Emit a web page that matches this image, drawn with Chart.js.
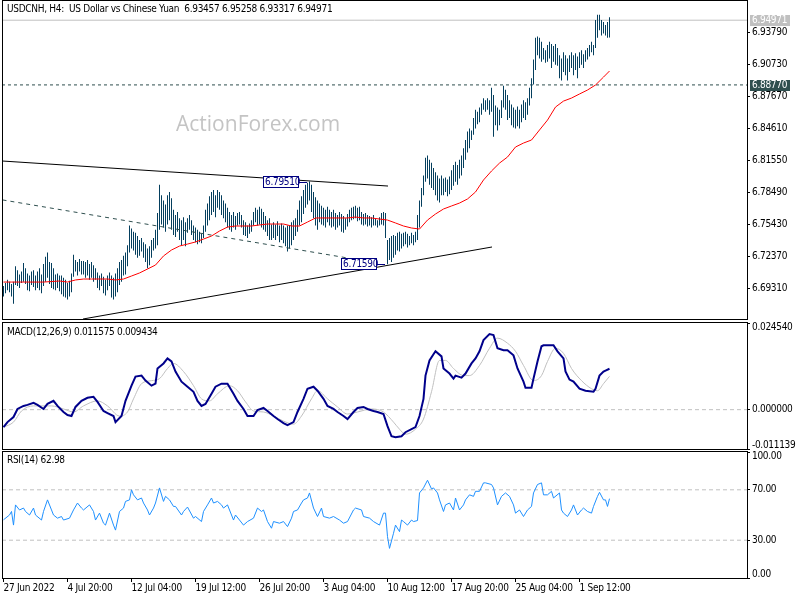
<!DOCTYPE html>
<html><head><meta charset="utf-8">
<script src="https://cdn.jsdelivr.net/npm/chart.js@4.4.1/dist/chart.umd.min.js"></script>
<style>
html,body{margin:0;padding:0;background:#fff;width:800px;height:600px;overflow:hidden;}
canvas{position:absolute;left:0;}
</style></head><body>
<canvas id="cPrice" width="800" height="320" style="top:0px"></canvas>
<canvas id="cMacd" width="800" height="130" style="top:320px"></canvas>
<canvas id="cRsi" width="800" height="150" style="top:450px"></canvas>
<script>
// ---------- DATA ----------
const symbolTitle = 'USDCNH, H4:  US Dollar vs Chinese Yuan';
const lastOHLC = [6.93457, 6.95258, 6.93317, 6.94971];
const dateTickBars = [0, 32, 64, 96, 128, 160, 192, 224, 256, 288];
const dateLabels = ['27 Jun 2022','4 Jul 20:00','12 Jul 04:00','19 Jul 12:00','26 Jul 20:00','3 Aug 04:00','10 Aug 12:00','17 Aug 20:00','25 Aug 04:00','1 Sep 12:00'];
const priceTicks = [6.6931, 6.7237, 6.7543, 6.7849, 6.8155, 6.8461, 6.8767, 6.9073, 6.9379];
const priceMin = 6.6634, priceMax = 6.9681;

const highs = [
6.695,6.698,6.701,6.699,6.697,6.699,6.714,6.710,6.706,6.709,
6.717,6.712,6.707,6.705,6.709,6.710,6.705,6.709,6.712,6.706,
6.716,6.723,6.727,6.718,6.717,6.712,6.706,6.707,6.705,6.705,
6.703,6.701,6.698,6.700,6.707,6.725,6.720,6.718,6.721,6.719,
6.719,6.718,6.720,6.716,6.718,6.715,6.712,6.708,6.705,6.707,
6.704,6.701,6.705,6.708,6.705,6.703,6.707,6.712,6.718,6.720,
6.724,6.727,6.734,6.753,6.750,6.747,6.746,6.743,6.739,6.741,
6.737,6.735,6.731,6.733,6.739,6.741,6.749,6.765,6.792,6.782,
6.777,6.773,6.782,6.785,6.779,6.768,6.763,6.766,6.760,6.758,
6.761,6.756,6.760,6.763,6.758,6.753,6.751,6.749,6.747,6.745,
6.753,6.768,6.774,6.781,6.785,6.787,6.782,6.787,6.785,6.782,
6.777,6.774,6.770,6.766,6.763,6.766,6.762,6.765,6.766,6.763,
6.758,6.756,6.753,6.755,6.758,6.766,6.770,6.768,6.771,6.769,
6.766,6.762,6.758,6.760,6.754,6.756,6.754,6.757,6.753,6.755,
6.753,6.751,6.753,6.753,6.756,6.758,6.760,6.768,6.777,6.781,
6.787,6.792,6.794,6.7951,6.792,6.785,6.780,6.777,6.774,6.772,
6.770,6.768,6.771,6.768,6.766,6.768,6.765,6.763,6.766,6.764,
6.762,6.760,6.764,6.768,6.770,6.771,6.772,6.770,6.771,6.766,
6.764,6.765,6.763,6.762,6.761,6.763,6.760,6.758,6.761,6.765,
6.766,6.765,6.739,6.741,6.743,6.744,6.743,6.746,6.747,6.745,
6.746,6.747,6.745,6.743,6.746,6.744,6.747,6.763,6.777,6.789,
6.801,6.818,6.820,6.816,6.813,6.808,6.804,6.801,6.798,6.801,
6.798,6.799,6.797,6.800,6.806,6.811,6.814,6.811,6.816,6.820,
6.827,6.835,6.843,6.846,6.844,6.856,6.864,6.862,6.866,6.870,
6.875,6.873,6.875,6.873,6.885,6.878,6.868,6.866,6.864,6.873,
6.887,6.883,6.878,6.873,6.869,6.866,6.864,6.867,6.864,6.869,
6.873,6.871,6.875,6.885,6.894,6.912,6.933,6.934,6.933,6.929,
6.923,6.921,6.926,6.929,6.927,6.925,6.927,6.923,6.916,6.913,
6.919,6.916,6.913,6.916,6.919,6.916,6.918,6.915,6.919,6.921,
6.917,6.921,6.923,6.926,6.929,6.926,6.950,6.955,6.955,6.950,
6.948,6.945,6.948,6.95258];

const lows = [
6.685,6.688,6.691,6.689,6.685,6.678,6.696,6.695,6.693,6.698,
6.699,6.697,6.691,6.690,6.696,6.694,6.691,6.693,6.691,6.688,
6.695,6.699,6.703,6.697,6.693,6.692,6.691,6.693,6.690,6.687,
6.685,6.684,6.682,6.685,6.689,6.704,6.709,6.705,6.709,6.706,
6.706,6.703,6.705,6.701,6.703,6.699,6.701,6.693,6.691,6.695,
6.688,6.686,6.691,6.695,6.684,6.682,6.685,6.689,6.696,6.699,
6.705,6.706,6.714,6.727,6.731,6.729,6.725,6.722,6.724,6.728,
6.722,6.718,6.712,6.715,6.722,6.729,6.731,6.734,6.749,6.754,
6.751,6.747,6.754,6.758,6.749,6.744,6.742,6.747,6.739,6.734,
6.739,6.733,6.746,6.749,6.744,6.739,6.737,6.735,6.737,6.736,
6.741,6.747,6.753,6.758,6.763,6.766,6.761,6.770,6.768,6.763,
6.760,6.756,6.751,6.749,6.747,6.751,6.749,6.753,6.754,6.751,
6.744,6.743,6.741,6.745,6.747,6.753,6.756,6.753,6.754,6.751,
6.749,6.747,6.743,6.739,6.739,6.741,6.739,6.743,6.737,6.739,
6.736,6.733,6.728,6.731,6.734,6.739,6.743,6.747,6.753,6.756,
6.764,6.770,6.773,6.777,6.766,6.760,6.753,6.749,6.756,6.754,
6.753,6.751,6.756,6.753,6.751,6.752,6.749,6.751,6.753,6.747,
6.746,6.749,6.752,6.756,6.758,6.759,6.760,6.757,6.758,6.754,
6.753,6.754,6.752,6.753,6.751,6.753,6.753,6.751,6.753,6.754,
6.753,6.741,6.7159,6.720,6.718,6.722,6.725,6.729,6.728,6.731,
6.733,6.735,6.732,6.734,6.736,6.734,6.737,6.739,6.751,6.771,
6.782,6.795,6.798,6.792,6.789,6.787,6.782,6.777,6.775,6.782,
6.782,6.785,6.781,6.783,6.787,6.791,6.795,6.792,6.798,6.801,
6.808,6.816,6.823,6.827,6.835,6.840,6.846,6.850,6.852,6.859,
6.864,6.862,6.864,6.859,6.862,6.838,6.849,6.844,6.849,6.856,
6.866,6.864,6.854,6.856,6.849,6.847,6.846,6.848,6.846,6.852,
6.856,6.854,6.859,6.868,6.875,6.888,6.902,6.916,6.913,6.910,
6.912,6.909,6.910,6.913,6.904,6.910,6.907,6.906,6.894,6.892,
6.900,6.897,6.892,6.900,6.904,6.897,6.902,6.894,6.904,6.907,
6.904,6.910,6.912,6.915,6.919,6.916,6.923,6.933,6.940,6.935,
6.937,6.935,6.933,6.93317];

// moving average, one reading every 4 bars (last one on the final bar)
const maEvery = 4;
const maValues = [
6.6988,6.6988,6.6988,6.6988,6.6988,6.6988,6.6993,6.6998,6.6988,6.7008,
6.7017,6.7017,6.7017,6.7017,6.7008,6.7017,6.7046,6.7075,6.7113,6.7151,
6.7238,6.7295,6.7333,6.7352,6.7372,6.7400,6.7429,6.7477,6.7515,6.7525,
6.7525,6.7525,6.7535,6.7544,6.7544,6.7544,6.7525,6.7525,6.7563,6.7602,
6.7602,6.7602,6.7602,6.7602,6.7611,6.7602,6.7602,6.7592,6.7582,6.7554,
6.7525,6.7506,6.7496,6.7582,6.7640,6.7688,6.7717,6.7745,6.7784,6.7851,
6.7966,6.8052,6.8128,6.8186,6.8282,6.8320,6.8349,6.8445,6.8540,6.8665,
6.8722,6.8751,6.8790,6.8828,6.8876,6.8952,6.9010];

const levelPrice = 6.8877;
const swingHigh = {bar:153, price:6.7951};
const swingLow = {bar:192, price:6.7159};
const trendUpper = [[-0.75, 6.8148], [192.25, 6.7908]];
const trendLower = [[39.75, 6.6634], [244.25, 6.7324]];
const trendDashed = [[-0.5, 6.7775], [172.25, 6.7218]];

const macdTicks = [-0.011139, 0, 0.02454];
const macdIdx = [0,2,5,7,10,12,15,17,20,22,25,27,30,32,34,36,39,42,45,47,50,52,55,56,59,61,64,66,69,71,74,76,77,80,82,84,86,89,92,95,97,99,101,104,106,109,112,115,117,120,122,125,127,130,132,135,137,140,142,145,147,150,152,155,157,160,162,165,167,170,172,175,177,180,182,185,187,190,192,194,196,199,201,204,206,208,210,211,213,215,216,219,220,223,225,226,229,231,234,236,238,240,243,245,247,250,252,255,257,260,261,264,265,267,269,270,275,277,280,281,283,285,288,291,295,296,298,300,301,303];
const macdMain = [-0.00495,-0.00352,-0.00209,0.00020,0.00106,0.00135,0.00192,0.00135,0.00020,0.00163,
0.00249,0.00106,-0.00066,-0.00152,-0.00180,0.00077,0.00249,0.00335,0.00364,0.00221,
-0.00037,-0.00095,-0.00180,-0.00352,-0.00180,0.00249,0.00679,0.00937,0.00965,0.00822,
0.00679,0.00736,0.01166,0.01309,0.01452,0.01366,0.01080,0.00793,0.00650,0.00507,
0.00249,0.00106,0.00163,0.00450,0.00650,0.00736,0.00736,0.00450,0.00249,0.00020,
-0.00180,-0.00180,-0.00009,0.00049,-0.00037,-0.00180,-0.00266,-0.00381,-0.00438,-0.00352,
-0.00066,0.00306,0.00593,0.00650,0.00536,0.00306,0.00106,0.00020,-0.00066,-0.00180,
-0.00266,-0.00066,0.00049,0.00077,0.00020,-0.00037,-0.00066,-0.00123,-0.00467,-0.00753,
-0.00782,-0.00753,-0.00639,-0.00553,-0.00495,-0.00180,0.00306,0.00965,0.01395,0.01567,
0.01653,0.01509,0.01166,0.01022,0.00879,0.00965,0.00908,0.01022,0.01309,0.01452,
0.01653,0.01968,0.02139,0.02111,0.01738,0.01681,0.01681,0.01538,0.01166,0.00793,
0.00621,0.00621,0.00879,0.01366,0.01796,0.01824,0.01824,0.01653,0.01452,0.01080,
0.00851,0.00793,0.00593,0.00536,0.00507,0.00593,0.00965,0.01080,0.01108,0.011575];
const signalIdx = [0,5,9,15,24,30,35,40,47,52,58,62,65,69,74,78,82,85,90,95,99,103,107,113,117,121,125,130,135,140,145,149,154,157,162,167,172,177,184,190,195,198,201,206,210,214,218,221,225,230,233,238,243,247,252,256,260,265,269,272,276,280,284,289,294,297,300,303];
const macdSignal = [-0.00495,-0.00352,-0.00037,0.00106,0.00106,0.00020,-0.00066,0.00106,0.00249,0.00106,
-0.00180,-0.00066,0.00306,0.00736,0.00822,0.00879,0.01166,0.01309,0.01080,0.00679,
0.00306,0.00249,0.00450,0.00679,0.00536,0.00221,-0.00037,-0.00066,-0.00180,-0.00324,
-0.00410,-0.00180,0.00306,0.00536,0.00306,0.00077,-0.00123,-0.00066,0.00020,-0.00066,
-0.00352,-0.00553,-0.00696,-0.00553,-0.00266,0.00507,0.01395,0.01395,0.01166,0.00965,
0.00965,0.01252,0.01738,0.02025,0.01882,0.01653,0.01252,0.00822,0.00965,0.01366,
0.01738,0.01595,0.01166,0.00822,0.00593,0.00536,0.00736,0.009434];

const rsiTicks = [0, 30, 70, 100];
const rsiLevels = [30, 70];
const rsiIdx = [0,3,4,5,6,8,10,11,13,15,16,19,20,22,24,25,27,29,30,33,35,37,39,40,43,45,46,48,50,51,53,55,56,58,60,61,63,64,65,67,69,70,72,73,75,76,78,80,81,83,85,86,89,90,92,95,96,99,100,102,104,105,107,109,110,112,115,116,118,120,122,125,127,129,130,132,134,135,138,140,142,144,145,147,149,150,152,153,155,157,159,160,163,165,168,170,172,175,176,179,180,183,185,188,190,191,192,193,195,196,198,199,200,202,204,205,207,208,210,212,214,215,217,218,220,221,223,225,226,228,230,231,233,235,236,238,240,241,244,245,247,249,251,253,255,256,258,260,262,264,265,267,269,270,272,274,275,278,279,280,282,284,285,287,289,290,292,294,295,297,298,300,301,302,303];
const rsiVals = [46.2,50,52.8,42,58,54,55.5,52.8,50,55.5,50,46,52.8,62,54,50,47.5,48.8,46,47.5,54,59.5,55.5,54,58,52.8,46,51.5,43.5,42,51.5,42,38,52.8,55.5,60.8,62,70,66,62,63.5,59.5,54,50,55.5,59.5,71.5,60.8,64.8,62,56.8,56.8,50,52.8,56.3,47.5,48.8,44.8,52.8,58,63.5,59.5,60.8,58,55.5,58,46,50,46,42,44.8,47.5,55.5,52.8,54,44.8,39.5,44.8,43.5,44.8,40.8,47.5,52.8,54,59.5,62,63.5,67.5,55.5,48.8,55.5,48.8,47.5,48.8,46,43.5,44.8,54,55.5,54,48.8,47.5,44.8,42,51.5,51.5,32.8,23.5,35.5,42,36.8,46,44.8,42,46,44.8,45.6,67.5,71.5,77.6,70.7,71.5,67.5,62,52.8,58,59.5,54,63.5,54,58,62,66,64.8,68.8,68.8,75.5,75.5,74.2,71.5,58,64.8,67.5,64.8,58,51.5,54,48.8,54,56.8,67.5,74.2,75.5,66,66,68.8,63.5,67.5,54,51.5,48.8,54,58,50,54,55.5,52.8,51.5,56.8,64.8,68,62,62,56.8,62.98];

// ---------- STYLE / LAYOUT ----------
const FAMILY = '"DejaVu Sans Condensed", "DejaVu Sans", sans-serif';
const FSIZE = 10;
const FONT = FSIZE + 'px ' + FAMILY;
const X_MIN = -0.75, X_MAX = 371.75;
const AXIS_W = 53;
const BAR_COLOR = '#053f5e';
const LEVEL_COLOR = '#2f4f4f';
const SILVER = '#c0c0c0';
const NAVY = '#000080';

const lastBar = highs.length - 1;
const lastClose = lastOHLC[3];
const pts = (xs, ys) => ys.map((v, k) => ({x: xs[k], y: v}));
const seg = (p) => p.map(([x, y]) => ({x, y}));
const hline = (v) => [{x: X_MIN, y: v}, {x: X_MAX, y: v}];
const lineDs = (data, color, width, extra) => Object.assign({type:'line', data, borderColor:color, borderWidth:width, pointRadius:0, fill:false, tension:0}, extra || {});

function baseOptions(padding) {
  return {
    responsive:false, animation:false, devicePixelRatio:1, events:[],
    layout:{padding},
    plugins:{legend:{display:false}, tooltip:{enabled:false}},
  };
}
function yAxis(min, max, tickVals) {
  return {
    position:'right', min, max,
    afterFit(s){ s.width = AXIS_W; },
    afterBuildTicks(s){ s.ticks = tickVals.map(v => ({value:v})); },
    ticks:{display:false, autoSkip:false},
    grid:{drawOnChartArea:false, drawTicks:true, tickLength:3, tickColor:'#000'},
    border:{display:true, color:'#000'}
  };
}
const hiddenX = {type:'linear', min:X_MIN, max:X_MAX, offset:false, display:false};

function setText(ctx, color, align) {
  ctx.font = FONT; ctx.fillStyle = color; ctx.textAlign = align || 'left'; ctx.textBaseline = 'middle';
  if ('letterSpacing' in ctx) ctx.letterSpacing = '-0.3px';
}
function framePlugin(extra) {
  return {id:'frame', beforeDatasetsDraw(chart){ if (extra && extra.before) extra.before(chart); },
    afterDraw(chart){
      const {ctx, chartArea:a} = chart;
      ctx.save();
      ctx.strokeStyle = '#000'; ctx.lineWidth = 1;
      ctx.strokeRect(a.left + 0.5, a.top - 0.5, a.right - a.left, a.bottom - a.top + 1);
      ctx.restore();
      if (extra && extra.after) extra.after(chart);
    }};
}
function sideLabels(chart, values, decimals) {
  const {ctx, chartArea:a} = chart; const ys = chart.scales.y;
  ctx.save(); setText(ctx, '#000');
  values.forEach(v => {
    let py = ys.getPixelForValue(v);
    py = Math.max(a.top + 4, Math.min(a.bottom - 4, py));
    ctx.fillText(v.toFixed(decimals), a.right + 5, py);
  });
  ctx.restore();
}
function caption(chart, text, y) {
  const ctx = chart.ctx; ctx.save(); setText(ctx, '#000'); ctx.fillText(text, 7, y); ctx.restore();
}

// ---------- PRICE PANEL ----------
const barData = highs.map((h, i) => ({x:i, y:[lows[i], h]}));
const maData = maValues.map((v, k) => ({x: Math.min(k * maEvery, lastBar), y: v}));

new Chart(document.getElementById('cPrice'), {
  type:'bar',
  data:{datasets:[
    lineDs(maData, '#ff0000', 1, {order:0}),
    {type:'bar', data:barData, backgroundColor:BAR_COLOR, borderWidth:0, barThickness:1, inflateAmount:0, grouped:false, order:3},
    lineDs(seg(trendUpper), '#000000', 1, {order:1}),
    lineDs(seg(trendLower), '#000000', 1, {order:1}),
    lineDs(seg(trendDashed), LEVEL_COLOR, 1, {order:1, borderDash:[4,4]}),
    lineDs(hline(levelPrice), LEVEL_COLOR, 1, {order:4, borderDash:[3,3]}),
    lineDs(hline(lastClose), SILVER, 1, {order:5}),
  ]},
  options:Object.assign(baseOptions({left:2, top:1, right:0, bottom:1}), {
    scales:{ x:hiddenX, y:yAxis(priceMin, priceMax, priceTicks) }
  }),
  plugins:[framePlugin({
    before(chart){
      const ctx = chart.ctx; ctx.save();
      ctx.font = '21px "Open Sans", sans-serif'; ctx.fillStyle = '#c4c4c4';
      ctx.textAlign = 'left'; ctx.textBaseline = 'middle';
      ctx.fillText('ActionForex.com', 176, 125);
      ctx.restore();
    },
    after(chart){
      const {ctx, chartArea:a} = chart; const xs = chart.scales.x, ys = chart.scales.y;
      sideLabels(chart, priceTicks, 5);
      caption(chart, symbolTitle + '  ' + lastOHLC.map(v => v.toFixed(5)).join(' '), 9);
      // right side price boxes
      [[lastClose, SILVER], [levelPrice, LEVEL_COLOR]].forEach(([v, c]) => {
        const py = Math.round(ys.getPixelForValue(v));
        ctx.save(); ctx.fillStyle = c; ctx.fillRect(a.right + 3, py - 5, 40, 11);
        setText(ctx, '#fff');
        ctx.fillText(v.toFixed(5), a.right + 5, py + 0.5); ctx.restore();
      });
      // swing labels
      [swingHigh, swingLow].forEach(s => {
        const px = Math.round(xs.getPixelForValue(s.bar)), py = Math.round(ys.getPixelForValue(s.price));
        ctx.save(); ctx.strokeStyle = NAVY; ctx.lineWidth = 1;
        ctx.beginPath(); ctx.moveTo(px - 11, py + 0.5); ctx.lineTo(px - 3, py + 0.5); ctx.stroke();
        ctx.fillStyle = '#fff'; ctx.fillRect(px - 47, py - 5, 36, 11);
        ctx.strokeRect(px - 46.5, py - 5.5, 35, 11);
        setText(ctx, NAVY);
        ctx.fillText(s.price.toFixed(5), px - 45, py + 0.5);
        ctx.restore();
      });
    }
  })]
});

// ---------- MACD PANEL ----------
new Chart(document.getElementById('cMacd'), {
  type:'line',
  data:{datasets:[
    lineDs(pts(macdIdx, macdMain), '#00008b', 2, {order:0}),
    lineDs(pts(signalIdx, macdSignal), SILVER, 1, {order:1, cubicInterpolationMode:'monotone'}),
    lineDs(hline(0), SILVER, 1, {order:2, borderDash:[4,3]}),
  ]},
  options:Object.assign(baseOptions({left:2, top:3, right:0, bottom:1}), {
    scales:{ x:hiddenX, y:yAxis(macdTicks[0], macdTicks[2], macdTicks) }
  }),
  plugins:[framePlugin({after(chart){
    sideLabels(chart, macdTicks, 6);
    caption(chart, 'MACD(12,26,9) ' + macdMain[macdMain.length-1].toFixed(6) + ' ' + macdSignal[macdSignal.length-1].toFixed(6), 12);
  }})]
});

// ---------- RSI PANEL ----------
new Chart(document.getElementById('cRsi'), {
  type:'line',
  data:{datasets:[
    lineDs(pts(rsiIdx, rsiVals), '#1e90ff', 1, {order:0}),
    lineDs(hline(rsiLevels[0]), SILVER, 1, {order:1, borderDash:[4,3]}),
    lineDs(hline(rsiLevels[1]), SILVER, 1, {order:1, borderDash:[4,3]}),
  ]},
  options:Object.assign(baseOptions({left:2, top:2, right:0, bottom:0}), {
    scales:{
      x:{type:'linear', min:X_MIN, max:X_MAX, offset:false, position:'bottom',
        afterFit(s){ s.height = 22; },
        afterBuildTicks(s){ s.ticks = dateTickBars.map(v => ({value:v})); },
        ticks:{display:false, autoSkip:false, maxRotation:0, minRotation:0},
        grid:{drawOnChartArea:false, drawTicks:true, tickLength:4, tickColor:'#000'},
        border:{display:false}},
      y:yAxis(0, 100, rsiTicks)
    }
  }),
  plugins:[framePlugin({after(chart){
    sideLabels(chart, rsiTicks, 2);
    caption(chart, 'RSI(14) ' + rsiVals[rsiVals.length-1].toFixed(2), 10);
    const ctx = chart.ctx, xs = chart.scales.x, a = chart.chartArea;
    ctx.save(); setText(ctx, '#000');
    dateTickBars.forEach((v, k) => ctx.fillText(dateLabels[k], Math.round(xs.getPixelForValue(v)) - 0.5, a.bottom + 10));
    ctx.restore();
  }})]
});
</script>
</body></html>
